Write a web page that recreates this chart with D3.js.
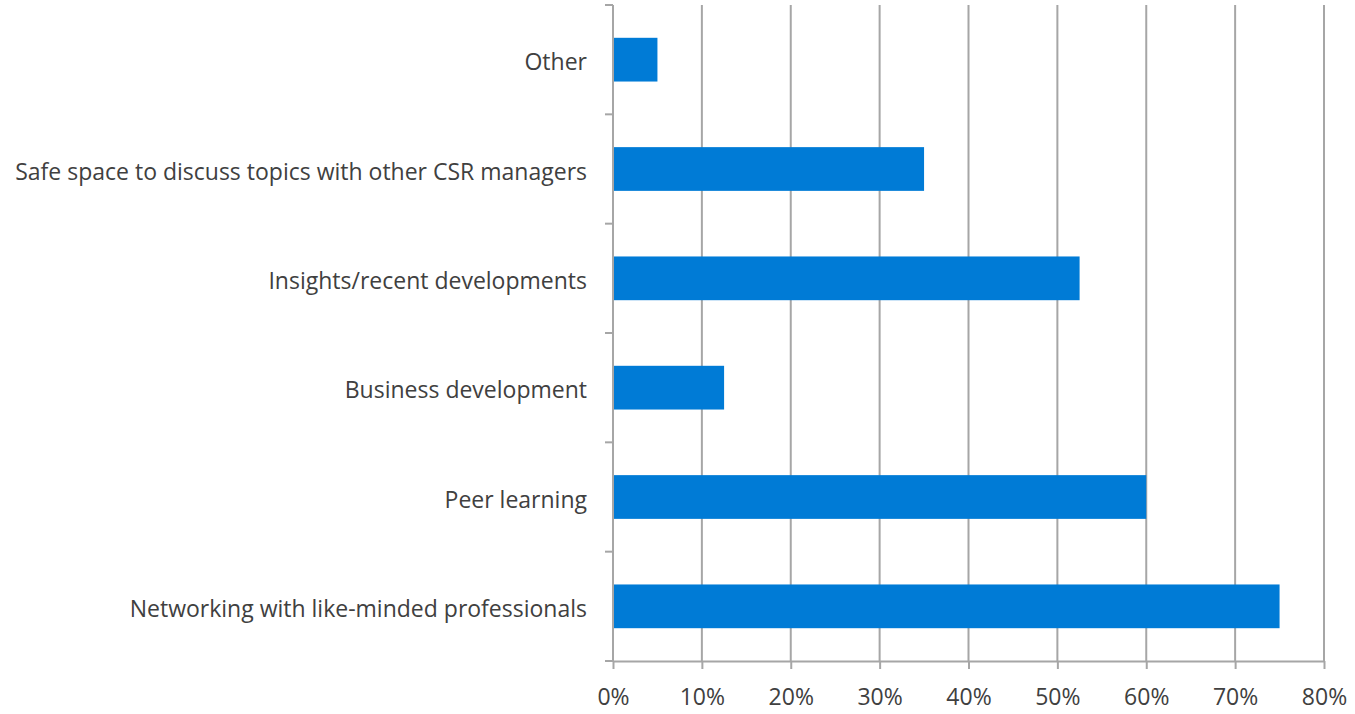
<!DOCTYPE html>
<html>
<head>
<meta charset="utf-8">
<script src="https://cdn.jsdelivr.net/npm/d3@7"></script>
<style>
  body { margin: 0; background: #fff; }
  text { font-family: "Open Sans", sans-serif; fill: #404040; }
</style>
</head>
<body>
<div id="chart-area"></div>
<script>
// categories from top to bottom
var categories = ['Other', 'Safe space to discuss topics with other CSR managers',
  'Insights/recent developments', 'Business development', 'Peer learning',
  'Networking with like-minded professionals']
var values = [0.05, 0.35, 0.525, 0.125, 0.60, 0.75]
var xTicks = [0, 0.1, 0.2, 0.3, 0.4, 0.5, 0.6, 0.7, 0.8]

var margin = { left: 613, right: 31, top: 5, bottom: 53 }
var width = 1355 - margin.left - margin.right,
    height = 714 - margin.top - margin.bottom

var svg = d3.select('#chart-area')
  .append('svg')
    .attr('width', 1355)
    .attr('height', 714)
var g = svg.append('g')
    .attr('transform', 'translate(' + margin.left + ', ' + margin.top + ')')

var x = d3.scaleLinear()
    .domain([0, 0.8])
    .range([0, width])

var y = d3.scaleBand()
    .domain(categories)
    .range([0, height])
    .paddingInner(0.6)
    .paddingOuter(0.3)

// gridlines
g.selectAll('.grid')
  .data(xTicks.slice(1))
  .enter()
  .append('line')
    .attr('x1', d => x(d))
    .attr('x2', d => x(d))
    .attr('y1', 0)
    .attr('y2', height)
    .attr('stroke', '#a6a6a6')
    .attr('stroke-width', 2)

var xAxisCall = d3.axisBottom(x)
  .tickValues(xTicks)
  .tickFormat(d3.format('.0%'))
  .tickSize(8)
  .tickSizeOuter(0)
var xAxis = g.append('g')
  .attr('class', 'x axis')
  .attr('transform', 'translate(0,' + height + ')')
  .call(xAxisCall)
xAxis.select('.domain').attr('stroke', '#a6a6a6').attr('stroke-width', 2)
xAxis.selectAll('.tick line').attr('stroke', '#a6a6a6').attr('stroke-width', 2)
xAxis.selectAll('.tick text')
  .attr('font-size', '23px')
  .attr('font-family', '"Open Sans", sans-serif')
  .attr('fill', '#404040')
  .attr('y', 28)

// y axis: ticks at category boundaries
var bounds = d3.range(categories.length + 1).map(i => i * height / categories.length)
g.append('line')
  .attr('x1', 0).attr('x2', 0)
  .attr('y1', 0).attr('y2', height)
  .attr('stroke', '#a6a6a6').attr('stroke-width', 2)
g.selectAll('.ytick')
  .data(bounds)
  .enter()
  .append('line')
    .attr('x1', -8).attr('x2', 0)
    .attr('y1', d => d).attr('y2', d => d)
    .attr('stroke', '#a6a6a6').attr('stroke-width', 2)

g.selectAll('.ylabel')
  .data(categories)
  .enter()
  .append('text')
    .attr('x', -26)
    .attr('y', d => y(d) + y.bandwidth() / 2)
    .attr('dy', '0.46em')
    .attr('text-anchor', 'end')
    .attr('font-size', '23px')
    .text(d => d)

g.selectAll('rect')
  .data(values)
  .enter()
  .append('rect')
    .attr('x', 1)
    .attr('y', (d, i) => y(categories[i]))
    .attr('width', d => x(d) - 1)
    .attr('height', y.bandwidth())
    .attr('fill', '#007BD6')
</script>
</body>
</html>
